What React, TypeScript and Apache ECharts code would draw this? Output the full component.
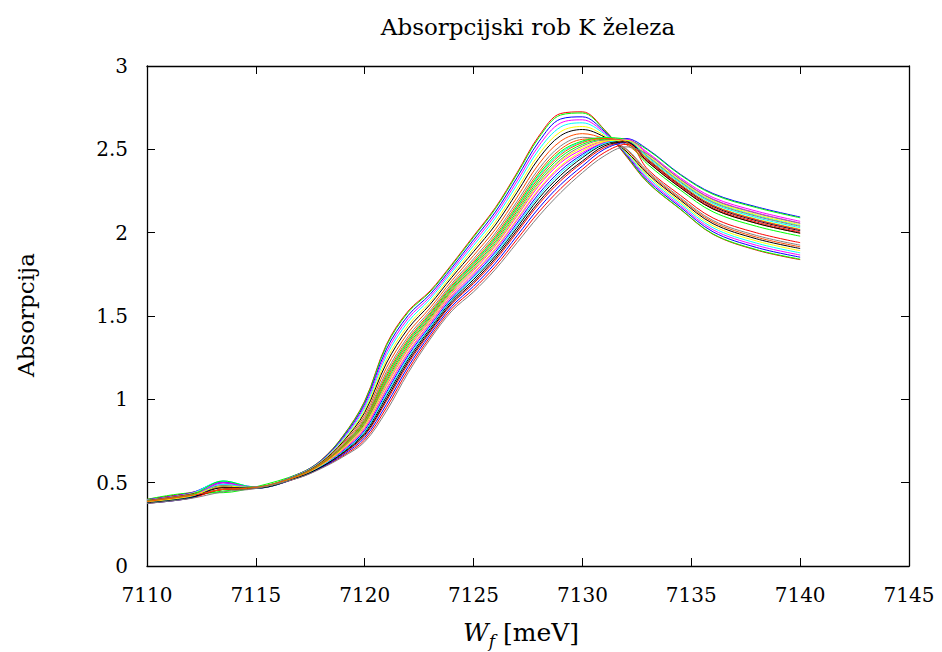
import React, { useEffect, useRef } from "react";
import * as echarts from "echarts";

// Photon energy sample points [meV]
const energies = [7110, 7112, 7113.5, 7115, 7117, 7118, 7119, 7120, 7121, 7122, 7123, 7124, 7125, 7126, 7127, 7128, 7129, 7130, 7131, 7132, 7133, 7134.5, 7136, 7138, 7140];

// Absorption curves
const s01 = [0.400, 0.440, 0.480, 0.475, 0.555, 0.635, 0.780, 0.990, 1.330, 1.530, 1.650, 1.810, 1.980, 2.150, 2.360, 2.580, 2.715, 2.725, 2.620, 2.460, 2.300, 2.140, 1.990, 1.895, 1.838];
const s02 = [0.400, 0.438, 0.440, 0.475, 0.555, 0.634, 0.778, 0.985, 1.322, 1.523, 1.644, 1.804, 1.973, 2.143, 2.352, 2.570, 2.706, 2.718, 2.617, 2.465, 2.302, 2.142, 1.992, 1.898, 1.841];
const s03 = [0.398, 0.438, 0.505, 0.474, 0.553, 0.632, 0.771, 0.973, 1.302, 1.504, 1.630, 1.790, 1.957, 2.124, 2.331, 2.546, 2.682, 2.695, 2.609, 2.470, 2.312, 2.153, 2.005, 1.911, 1.853];
const s04 = [0.397, 0.436, 0.500, 0.474, 0.552, 0.629, 0.765, 0.961, 1.282, 1.486, 1.615, 1.776, 1.940, 2.106, 2.310, 2.522, 2.658, 2.677, 2.601, 2.475, 2.322, 2.163, 2.017, 1.924, 1.866];
const s05 = [0.396, 0.434, 0.510, 0.473, 0.551, 0.627, 0.759, 0.948, 1.262, 1.467, 1.601, 1.762, 1.923, 2.087, 2.289, 2.498, 2.634, 2.659, 2.593, 2.480, 2.332, 2.174, 2.029, 1.937, 1.879];
const s06 = [0.394, 0.432, 0.490, 0.473, 0.549, 0.624, 0.751, 0.934, 1.238, 1.445, 1.583, 1.746, 1.903, 2.065, 2.263, 2.470, 2.606, 2.637, 2.583, 2.485, 2.342, 2.184, 2.041, 1.950, 1.892];
const s07 = [0.393, 0.430, 0.480, 0.472, 0.548, 0.621, 0.745, 0.921, 1.218, 1.426, 1.569, 1.732, 1.886, 2.046, 2.242, 2.446, 2.582, 2.619, 2.575, 2.490, 2.352, 2.195, 2.054, 1.963, 1.905];
const s08 = [0.391, 0.428, 0.470, 0.471, 0.546, 0.618, 0.736, 0.904, 1.190, 1.400, 1.548, 1.712, 1.863, 2.020, 2.213, 2.412, 2.549, 2.594, 2.564, 2.500, 2.360, 2.203, 2.064, 1.973, 1.915];
const s09 = [0.390, 0.426, 0.460, 0.471, 0.545, 0.615, 0.729, 0.890, 1.166, 1.378, 1.531, 1.695, 1.843, 1.998, 2.188, 2.383, 2.520, 2.572, 2.554, 2.505, 2.368, 2.211, 2.073, 1.983, 1.925];
const s10 = [0.379, 0.410, 0.460, 0.466, 0.534, 0.593, 0.674, 0.782, 0.990, 1.215, 1.403, 1.572, 1.695, 1.835, 2.003, 2.172, 2.311, 2.420, 2.510, 2.545, 2.380, 2.224, 2.088, 1.999, 1.940];
const s11 = [0.386, 0.421, 0.450, 0.469, 0.541, 0.608, 0.711, 0.855, 1.110, 1.326, 1.490, 1.656, 1.796, 1.946, 2.129, 2.316, 2.454, 2.530, 2.560, 2.540, 2.410, 2.256, 2.125, 2.038, 1.979];
const s12 = [0.382, 0.415, 0.500, 0.468, 0.537, 0.599, 0.690, 0.814, 1.042, 1.264, 1.441, 1.608, 1.739, 1.884, 2.058, 2.234, 2.373, 2.470, 2.540, 2.565, 2.500, 2.350, 2.235, 2.155, 2.094];
const s13 = [0.384, 0.418, 0.490, 0.469, 0.539, 0.604, 0.702, 0.838, 1.082, 1.301, 1.470, 1.636, 1.772, 1.921, 2.100, 2.282, 2.420, 2.500, 2.550, 2.560, 2.480, 2.329, 2.211, 2.129, 2.068];
const s14 = [0.388, 0.422, 0.510, 0.470, 0.543, 0.610, 0.718, 0.868, 1.130, 1.345, 1.505, 1.670, 1.813, 1.965, 2.150, 2.340, 2.478, 2.545, 2.570, 2.550, 2.460, 2.308, 2.186, 2.103, 2.043];
const s15 = [0.383, 0.417, 0.470, 0.468, 0.539, 0.602, 0.698, 0.828, 1.066, 1.286, 1.459, 1.625, 1.759, 1.906, 2.083, 2.263, 2.401, 2.490, 2.545, 2.555, 2.444, 2.291, 2.166, 2.082, 2.022];
const s16 = [0.380, 0.413, 0.460, 0.467, 0.536, 0.596, 0.683, 0.799, 1.018, 1.241, 1.424, 1.592, 1.719, 1.861, 2.032, 2.206, 2.344, 2.450, 2.530, 2.550, 2.436, 2.283, 2.157, 2.072, 2.012];
const s17 = [0.389, 0.424, 0.470, 0.470, 0.544, 0.613, 0.724, 0.880, 1.150, 1.363, 1.519, 1.684, 1.829, 1.983, 2.171, 2.364, 2.501, 2.560, 2.565, 2.530, 2.424, 2.270, 2.142, 2.056, 1.997];
const s18 = [0.385, 0.420, 0.460, 0.469, 0.541, 0.606, 0.708, 0.848, 1.098, 1.315, 1.482, 1.648, 1.786, 1.935, 2.116, 2.302, 2.439, 2.520, 2.555, 2.550, 2.456, 2.304, 2.181, 2.098, 2.038];
const s19 = [0.376, 0.407, 0.460, 0.465, 0.531, 0.588, 0.661, 0.757, 0.950, 1.178, 1.374, 1.544, 1.662, 1.798, 1.961, 2.124, 2.264, 2.380, 2.480, 2.530, 2.430, 2.277, 2.149, 2.064, 2.004];
const s20 = [0.388, 0.423, 0.510, 0.470, 0.543, 0.611, 0.720, 0.872, 1.138, 1.352, 1.511, 1.676, 1.819, 1.972, 2.158, 2.350, 2.487, 2.550, 2.570, 2.560, 2.496, 2.346, 2.230, 2.150, 2.089];
const s21 = [0.377, 0.408, 0.480, 0.466, 0.533, 0.590, 0.668, 0.770, 0.970, 1.197, 1.389, 1.558, 1.679, 1.817, 1.982, 2.148, 2.288, 2.400, 2.500, 2.540, 2.440, 2.287, 2.162, 2.077, 2.017];
const s22 = [0.383, 0.416, 0.500, 0.468, 0.538, 0.601, 0.695, 0.823, 1.058, 1.278, 1.453, 1.620, 1.752, 1.898, 2.074, 2.254, 2.392, 2.480, 2.540, 2.560, 2.472, 2.321, 2.201, 2.119, 2.058];
const s23 = [0.381, 0.414, 0.490, 0.467, 0.536, 0.598, 0.686, 0.806, 1.030, 1.252, 1.432, 1.600, 1.729, 1.872, 2.045, 2.220, 2.359, 2.460, 2.535, 2.555, 2.450, 2.298, 2.174, 2.090, 2.030];
const s24 = [0.385, 0.419, 0.480, 0.469, 0.540, 0.605, 0.705, 0.843, 1.090, 1.308, 1.476, 1.642, 1.779, 1.928, 2.108, 2.292, 2.430, 2.510, 2.550, 2.555, 2.464, 2.312, 2.191, 2.108, 2.048];
const s25 = [0.379, 0.411, 0.470, 0.467, 0.535, 0.594, 0.678, 0.789, 1.002, 1.227, 1.412, 1.580, 1.705, 1.847, 2.016, 2.186, 2.325, 2.430, 2.520, 2.545, 2.424, 2.270, 2.142, 2.056, 1.997];
const s26 = [0.387, 0.422, 0.460, 0.470, 0.542, 0.609, 0.715, 0.863, 1.122, 1.338, 1.499, 1.664, 1.806, 1.958, 2.142, 2.330, 2.468, 2.540, 2.565, 2.545, 2.440, 2.287, 2.162, 2.077, 2.017];
const s27 = [0.375, 0.405, 0.445, 0.465, 0.530, 0.585, 0.655, 0.745, 0.930, 1.160, 1.360, 1.530, 1.645, 1.780, 1.940, 2.100, 2.240, 2.360, 2.460, 2.515, 2.470, 2.319, 2.198, 2.116, 2.056];

const curves = [s01, s02, s03, s04, s05, s06, s07, s08, s09, s10, s11, s12, s13, s14, s15, s16, s17, s18, s19, s20, s21, s22, s23, s24, s25, s26, s27];

// gnuplot (epslatex) line colour cycle
const palette = ["#ff0000", "#00ff00", "#0000ff", "#ff00ff", "#00ffff", "#ffff00", "#000000", "#ff4d00", "#808080"];

const titleText = "Absorpcijski rob K železa";
const yLabelText = "Absorpcija";

const FONT = "DejaVu Serif";

export default function App() {
  const ref = useRef<HTMLDivElement>(null);

  useEffect(() => {
    if (!ref.current) return;
    const chart = echarts.init(ref.current, null, { renderer: "svg" });

    const axisCommon = {
      type: "value" as const,
      axisLine: { show: true, onZero: false, lineStyle: { color: "#000", width: 1.3 } },
      axisTick: { show: true, inside: true, length: 8, lineStyle: { color: "#000", width: 1 } },
      splitLine: { show: false },
    };

    const series = curves.map((vals, i) => ({
      type: "line",
      xAxisIndex: 0,
      yAxisIndex: 0,
      data: energies.map((e, k) => [e, vals[k]]),
      showSymbol: false,
      symbol: "none",
      smooth: 0.35,
      silent: true,
      lineStyle: { width: 1, color: palette[i % palette.length] },
      z: 2,
    }));

    chart.setOption({
      animation: false,
      backgroundColor: "#ffffff",
      grid: { left: 147, right: 33, top: 66, bottom: 86, containLabel: false },
      xAxis: [
        {
          ...axisCommon,
          position: "bottom",
          min: 7110,
          max: 7145,
          interval: 5,
          axisLabel: {
            show: true,
            margin: 19,
            color: "#000",
            fontFamily: FONT,
            fontSize: 20,
            formatter: (v: number) => String(v),
          },
        },
        {
          ...axisCommon,
          position: "top",
          min: 7110,
          max: 7145,
          interval: 5,
          axisLabel: { show: false },
        },
      ],
      yAxis: [
        {
          ...axisCommon,
          position: "left",
          min: 0,
          max: 3,
          interval: 0.5,
          axisLabel: { show: true, margin: 19, color: "#000", fontFamily: FONT, fontSize: 20 },
        },
        {
          ...axisCommon,
          position: "right",
          min: 0,
          max: 3,
          interval: 0.5,
          axisLabel: { show: false },
        },
      ],
      graphic: [
        {
          type: "text",
          x: 528,
          y: 27,
          style: {
            text: titleText,
            fontFamily: FONT,
            fontSize: 23,
            fill: "#000",
            textAlign: "center",
            textVerticalAlign: "middle",
          },
        },
        {
          type: "text",
          x: 26,
          y: 315,
          rotation: Math.PI / 2,
          style: {
            text: yLabelText,
            fontFamily: FONT,
            fontSize: 23,
            fill: "#000",
            textAlign: "center",
            textVerticalAlign: "middle",
          },
        },
        {
          type: "text",
          x: 521,
          y: 632,
          style: {
            text: "{w|W}{f|f}{r| [meV]}",
            fontFamily: FONT,
            fontSize: 25,
            fill: "#000",
            textAlign: "center",
            textVerticalAlign: "middle",
            rich: {
              w: { fontFamily: FONT, fontSize: 25, fontStyle: "italic", lineHeight: 34 },
              f: { fontFamily: FONT, fontSize: 17, fontStyle: "italic", lineHeight: 34, verticalAlign: "bottom" },
              r: { fontFamily: FONT, fontSize: 25, lineHeight: 34 },
            },
          },
        },
      ],
      series,
    });

    return () => chart.dispose();
  }, []);

  return (
    <div
      ref={ref}
      style={{ position: "fixed", left: 0, top: 0, width: 942, height: 652, background: "#fff" }}
    />
  );
}
